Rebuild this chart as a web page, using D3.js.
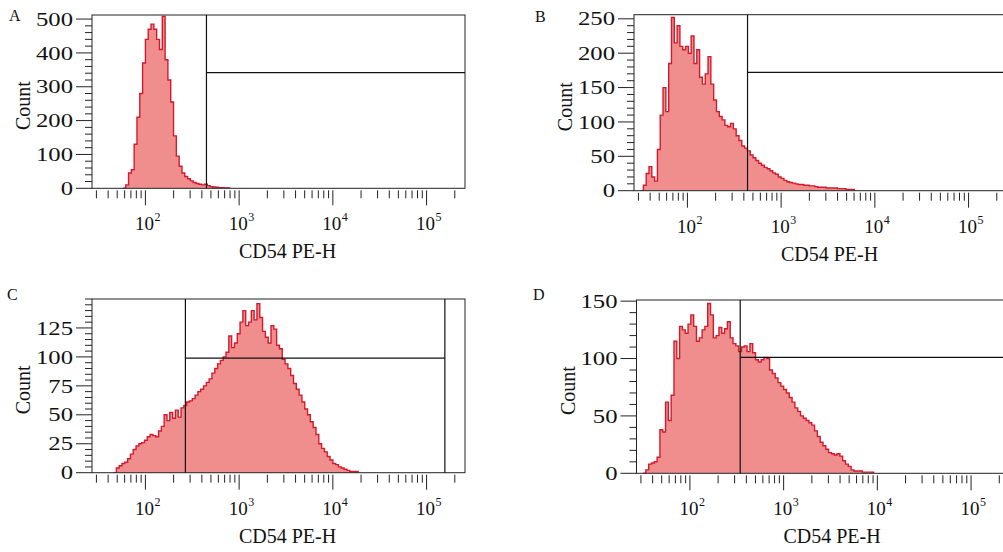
<!DOCTYPE html>
<html><head><meta charset="utf-8">
<script src="https://cdn.jsdelivr.net/npm/d3@7"></script>
<style>
html,body{margin:0;padding:0;background:#fff;}
svg{display:block;}
text{font-family:"Liberation Serif","Times New Roman",serif;fill:#111;}
</style></head>
<body>
<svg id="chart" width="1003" height="552"></svg>
<script>
// ---------- DATA ----------
const panelLetters = ["A", "B", "C", "D"];
const xLabel = "CD54 PE-H";
const yLabel = "Count";
const xDecades = [2, 3, 4, 5];           // major x ticks 10^2 .. 10^5
const logBinWidth = 0.03;               // histogram bin width (decades)

// Panel A
const binStartA = 1.76;
const countsA = [0,10,45,55,130,210,280,370,440,470,485,470,440,410,508,380,320,255,155,95,65,45,35,28,22,17,14,12,10,12,8,5,4,3,2,2,1,1,0];
const yTicksA = [0,100,200,300,400,500];
const yMinorA = 20;
const yMaxA = 512;
const gateA = [448, 342];           // [x threshold, horizontal marker count]

// Panel B
const binStartB = 1.50;
const countsB = [0,8,25,35,20,14,60,110,150,115,185,252,215,240,210,205,210,200,225,185,205,165,155,170,195,155,132,115,108,103,95,93,98,90,80,73,65,62,58,52,48,44,40,37,34,32,29,26,24,20,18,15,13,12,11,10,9,9,8,8,7,7,6,5,5,5,4,4,4,4,3,3,3,2,2,2,0];
const yTicksB = [0,50,100,150,200,250];
const yMinorB = 10;
const yMaxB = 256;
const gateB = [438, 172];

// Panel C
const binStartC = 1.66;
const countsC = [0,4,6,8,9,12,16,20,23,25,26,28,31,33,32,31,36,40,50,45,52,47,54,48,56,58,61,62,64,67,70,72,75,78,81,86,90,94,97,100,104,118,108,112,120,130,140,127,130,140,132,146,134,122,117,112,127,124,110,107,98,94,90,84,77,72,67,61,55,50,44,39,33,25,21,18,14,11,8,7,5,4,3,2,1,1,1,0];
const yTicksC = [0,25,50,75,100,125];
const yMinorC = 5;
const yMaxC = 150;
const gateC = [267, 99, 156700];    // [left threshold, marker count, right threshold]

// Panel D
const binStartD = 1.50;
const countsD = [0,3,8,9,10,14,38,36,62,46,68,115,100,128,125,122,130,138,128,115,118,125,128,148,138,118,120,127,122,126,132,118,113,111,106,110,111,106,113,105,99,97,99,101,100,90,87,83,79,76,73,70,66,62,57,54,50,48,46,44,42,37,32,27,24,21,18,17,16,17,15,11,8,6,3,2,2,2,1,1,1,1,0];
const yTicksD = [0,50,100,150];
const yMinorD = 10;
const yMaxD = 151;
const gateD = [344, 101];

// ---------- LAYOUT ----------
const svg = d3.select("#chart");
const logDomain = [Math.pow(10, 1.43), Math.pow(10, 5.41)];
const plotW = 373;

const panels = [
  {letter: panelLetters[0], left: 92,  top: 15,  bottom: 188.3, binStart: binStartA, counts: countsA, yTicks: yTicksA, yMinor: yMinorA, yMax: yMaxA, gate: gateA, lx: 9,   ly: 21},
  {letter: panelLetters[1], left: 634, top: 14.7,bottom: 190.7, binStart: binStartB, counts: countsB, yTicks: yTicksB, yMinor: yMinorB, yMax: yMaxB, gate: gateB, lx: 535, ly: 22},
  {letter: panelLetters[2], left: 92,  top: 299, bottom: 472.7, binStart: binStartC, counts: countsC, yTicks: yTicksC, yMinor: yMinorC, yMax: yMaxC, gate: gateC, lx: 7,   ly: 300},
  {letter: panelLetters[3], left: 636.5,top: 300, bottom: 473.3, binStart: binStartD, counts: countsD, yTicks: yTicksD, yMinor: yMinorD, yMax: yMaxD, gate: gateD, lx: 533, ly: 300}
];

const axisColor = "#222";

panels.forEach(p => {
  const g = svg.append("g");
  const x = d3.scaleLog().domain(logDomain).range([p.left, p.left + plotW]);
  const y = d3.scaleLinear().domain([0, p.yMax]).range([p.bottom, p.top]);

  // histogram
  const pts = p.counts.map((c, i) => [Math.pow(10, p.binStart + i * logBinWidth), c]);
  const clipId = "clip" + p.letter;
  svg.append("clipPath").attr("id", clipId).append("rect")
    .attr("x", p.left).attr("y", p.top).attr("width", plotW).attr("height", p.bottom - p.top);
  const area = d3.area().x(d => x(d[0])).y0(p.bottom).y1(d => y(d[1])).curve(d3.curveStepAfter);
  const line = d3.line().x(d => x(d[0])).y(d => y(d[1])).curve(d3.curveStepAfter);
  const hg = g.append("g").attr("clip-path", `url(#${clipId})`);
  hg.append("path").datum(pts).attr("d", area).attr("fill", "#f08e8e");
  hg.append("path").datum(pts).attr("d", line).attr("fill", "none")
    .attr("stroke", "#d31a2c").attr("stroke-width", 1.4);

  // frame
  g.append("rect").attr("x", p.left).attr("y", p.top).attr("width", plotW).attr("height", p.bottom - p.top)
    .attr("fill", "none").attr("stroke", axisColor).attr("stroke-width", 1);

  // gate lines
  const gx = x(p.gate[0]);
  const gl = g.append("g").attr("stroke", "#111").attr("stroke-width", 1.2);
  gl.append("line").attr("x1", gx).attr("x2", gx).attr("y1", p.top).attr("y2", p.bottom);
  const gRight = p.gate.length > 2 ? x(p.gate[2]) : p.left + plotW;
  gl.append("line").attr("x1", gx).attr("x2", gRight).attr("y1", y(p.gate[1])).attr("y2", y(p.gate[1]));
  if (p.gate.length > 2) {
    gl.append("line").attr("x1", gRight).attr("x2", gRight).attr("y1", p.top).attr("y2", p.bottom);
  }

  // x axis ticks (log, major at decades, minor at 2..9)
  const xt = g.append("g").attr("stroke", axisColor).attr("stroke-width", 1);
  for (let d = 1; d <= 5; d++) {
    for (let m = 1; m <= 9; m++) {
      const v = m * Math.pow(10, d);
      if (v < logDomain[0] || v > logDomain[1]) continue;
      const major = m === 1;
      xt.append("line").attr("x1", x(v)).attr("x2", x(v))
        .attr("y1", p.bottom + 2).attr("y2", p.bottom + (major ? 17 : 10));
    }
  }
  xDecades.forEach(d => {
    const v = Math.pow(10, d);
    g.append("text").attr("x", x(v) - 1).attr("y", p.bottom + 42)
      .attr("text-anchor", "middle").attr("font-size", 19).text("10");
    g.append("text").attr("x", x(v) + 9).attr("y", p.bottom + 33)
      .attr("font-size", 12).text(String(d));
  });

  // y axis ticks
  const yt = g.append("g").attr("stroke", axisColor).attr("stroke-width", 1);
  for (let v = 0; v <= p.yMax + 1e-9; v += p.yMinor) {
    const major = p.yTicks.includes(v);
    yt.append("line").attr("x1", p.left - (major ? 16 : 7)).attr("x2", p.left)
      .attr("y1", y(v)).attr("y2", y(v));
  }
  p.yTicks.forEach(v => {
    g.append("text").attr("transform", `translate(${p.left - 19},${y(v)}) scale(1.3,1)`)
      .attr("text-anchor", "end").attr("dy", "0.35em").attr("font-size", 19).text(v);
  });

  // labels
  g.append("text").attr("x", p.left + plotW / 2 + 9).attr("y", p.bottom + 70)
    .attr("text-anchor", "middle").attr("font-size", 20).text(xLabel);
  const cy = (p.top + p.bottom) / 2 + 4;
  g.append("text")
    .attr("transform", `translate(${p.left - 62},${cy}) rotate(-90)`)
    .attr("text-anchor", "middle").attr("font-size", 20).text(yLabel);
  g.append("text").attr("x", p.lx).attr("y", p.ly).attr("font-size", 16).text(p.letter);
});
</script>
</body></html>
